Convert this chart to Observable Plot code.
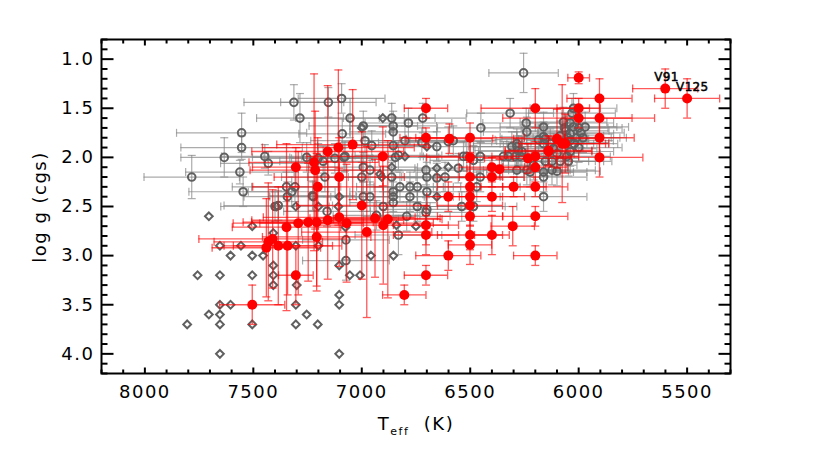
<!DOCTYPE html>
<html><head><meta charset="utf-8">
<script src="https://cdn.jsdelivr.net/npm/d3@7"></script>
<script src="https://cdn.jsdelivr.net/npm/@observablehq/plot@0.6"></script>
<style>body{margin:0;background:#fff}</style>
</head><body><div id="chart"></div>
<script>
// ---- data: [Teff, logg, errTeff, errLogg]
const grayCircles = [
[7313,1.44,230,0.18],[7154,1.44,220,0.15],[7093,1.40,200,0.15],[7285,1.60,200,0.25],
[7554,1.75,300,0.2],[7554,1.90,280,0.12],[7634,2.00,200,0.2],[7447,1.99,200,0.12],
[7431,2.06,220,0.12],[7562,2.15,250,0.12],[7784,2.20,220,0.22],[7547,2.35,250,0.15],
[7254,2.00,250,0.15],[7201,2.01,250,0.15],[7178,2.04,200,0.15],[7124,2.01,200,0.15],
[7082,2.00,250,0.15],[7054,1.60,250,0.2],[7347,2.30,250,0.15],[7323,2.35,200,0.15],
[7308,2.30,200,0.15],[7227,2.39,200,0.15],[7170,2.20,200,0.15],[7400,2.50,250,0.15],
[7385,2.49,250,0.15],[7343,2.40,200,0.15],[7224,2.40,200,0.15],[7073,2.84,200,0.2],
[7073,3.05,200,0.2],[7160,2.55,200,0.15],[7090,1.76,200,0.15],
[6862,1.60,200,0.15],[6785,1.65,200,0.15],[6719,1.60,200,0.15],[6993,1.68,250,0.15],
[6855,1.68,200,0.15],[6855,1.74,200,0.15],[6985,1.83,250,0.15],[6954,1.88,250,0.15],
[6855,1.88,200,0.15],[6801,1.83,200,0.15],[6723,1.85,200,0.15],[6654,1.89,200,0.15],
[6601,1.84,200,0.15],[6578,1.83,200,0.15],[7077,1.99,200,0.15],[6831,1.98,200,0.15],
[6845,2.00,200,0.15],[6993,2.10,250,0.15],[6962,2.13,250,0.15],[6862,2.20,200,0.15],
[6704,2.13,200,0.15],[6700,2.20,200,0.15],[6654,2.21,200,0.15],[6555,2.11,200,0.15],
[6531,1.99,200,0.15],[6516,1.99,200,0.15],[7000,2.20,250,0.15],[6824,2.30,200,0.15],
[6778,2.30,200,0.15],[6744,2.30,200,0.15],[6700,2.35,200,0.15],[6855,2.40,200,0.15],
[6778,2.40,200,0.15],[6855,2.35,200,0.15],[6744,2.50,200,0.15],[6700,2.53,200,0.15],
[6993,2.40,250,0.15],[6962,2.40,250,0.15],[6831,2.79,200,0.2],[6704,2.56,200,0.15],
[6793,2.60,200,0.15],[6539,2.50,200,0.15],[6485,2.50,200,0.15],[6855,2.46,200,0.15],
[6932,2.59,200,0.15],[6901,2.50,200,0.15],[6616,2.20,200,0.15],[6454,2.20,200,0.15],
[6470,2.30,200,0.15],[6454,1.99,200,0.15],[6485,2.03,200,0.15],[6451,1.70,200,0.15],
[6254,1.14,160,0.2],[6316,1.55,200,0.15],[6242,1.65,200,0.15],[6239,1.74,200,0.15],
[6024,1.50,200,0.15],[6031,1.55,200,0.15],[6039,1.65,200,0.15],[6024,1.69,200,0.15],
[6039,1.76,200,0.15],[5970,1.69,200,0.15],[6070,1.64,200,0.15],[6060,1.73,200,0.15],
[6085,1.78,200,0.15],[6162,1.69,200,0.15],[6162,1.79,200,0.15],[6154,1.81,200,0.15],
[6185,1.82,200,0.15],[6162,1.86,200,0.15],[6285,1.86,200,0.15],[6278,1.93,200,0.15],
[6270,1.99,200,0.15],[6131,1.86,200,0.15],[6116,1.91,200,0.15],[6039,1.94,200,0.15],
[6054,1.99,200,0.15],[6100,1.96,200,0.15],[6324,1.99,200,0.15],[6347,1.99,200,0.15],
[6308,1.89,200,0.15],[6285,1.89,200,0.15],[6262,1.94,200,0.15],[6293,1.99,200,0.15],
[6154,2.04,200,0.15],[6123,2.04,200,0.15],[6085,2.04,200,0.15],[6047,2.04,200,0.15],
[6285,2.13,200,0.15],[6239,2.13,200,0.15],[6208,2.08,200,0.15],[6162,2.15,200,0.15],
[6123,2.13,200,0.15],[6224,2.15,200,0.15],[6162,2.20,200,0.15],[6162,2.40,200,0.15],
[6100,2.14,200,0.15],[6010,1.80,200,0.15],[6000,1.90,200,0.15],[5990,1.75,200,0.15],
[6060,1.85,200,0.15],[6050,1.80,200,0.15],[6040,1.83,200,0.15],[6020,1.86,200,0.15],
[6065,1.70,200,0.15],[6000,1.70,200,0.15],[5980,1.80,200,0.15]
];
// [Teff, logg]
const grayDiamonds = [
[7705,2.60],[7654,2.90],[7605,3.00],[7557,2.90],[7505,2.70],[7505,3.00],[7455,3.00],
[7757,3.20],[7654,3.20],[7505,3.20],[7654,3.50],[7605,3.50],[7705,3.60],[7654,3.60],
[7805,3.70],[7654,3.70],[7505,3.70],[7654,4.00],[7304,3.50],[7254,3.60],[7304,3.70],
[7203,3.70],[7104,4.00],[7104,3.40],[7104,3.50],[7104,3.10],[7408,3.10],[7408,3.20],
[7408,3.30],[7300,3.30],[7304,2.90],[7200,2.90],[7393,2.50],[7304,2.50],[7200,2.50],
[7408,2.77],[7108,2.50],[7104,2.40],[7055,3.20],[7008,3.20],[6958,3.00],[6854,3.00],
[6654,2.40],[6750,2.70],[6840,2.69],[6908,2.20],[6916,2.17],[6801,1.99],[6700,1.89],
[6601,2.10],[6654,2.11],[6903,1.60],[7000,1.70],[6862,2.10],[7075,2.71]
];
// [Teff, logg, errTeff, errLogg]
const redPoints = [
[7505,3.50,150,0.2],[7431,2.86,250,0.6],[7411,2.83,340,0.5],[7440,2.92,250,0.5],
[7385,2.90,250,0.6],[7347,2.71,250,0.85],[7342,2.90,250,0.5],[7304,3.20,80,0.3],
[7293,2.67,300,0.73],[7247,2.66,300,0.6],[7208,2.66,300,0.7],[7208,2.81,250,0.5],
[7157,2.64,350,0.6],[7104,2.61,350,0.5],[7070,2.67,400,0.6],[6977,2.76,300,0.87],
[6939,2.62,300,0.6],[6901,2.69,300,0.6],[6880,2.63,250,0.8],[7304,2.10,200,0.2],
[7220,2.05,300,0.9],[7215,2.13,300,0.6],[7157,1.94,350,0.67],[7108,1.90,350,0.79],
[7104,2.20,300,0.4],[7203,2.30,300,0.5],[7042,1.87,350,0.56],[6903,1.99,350,0.3],
[7000,2.49,300,0.75],[6704,1.50,100,0.1],[6704,1.80,120,0.1],[6596,1.81,200,0.15],
[6501,1.80,250,0.15],[6501,2.00,200,0.2],[6501,2.20,150,0.15],[6501,2.30,150,0.1],
[6501,2.40,150,0.1],[6501,2.49,150,0.1],[6400,2.10,150,0.1],[6365,2.12,150,0.1],
[6400,2.20,150,0.1],[6300,2.30,150,0.1],[6200,1.50,250,0.2],[6234,2.01,200,0.15],
[6200,1.99,200,0.15],[6200,2.10,150,0.15],[6200,2.30,150,0.1],[6139,1.94,200,0.15],
[6601,2.40,100,0.15],[6400,2.40,150,0.15],[6501,2.60,150,0.1],[6200,2.60,150,0.1],
[6304,2.70,100,0.2],[6704,2.69,150,0.2],[6704,2.79,150,0.2],[6501,2.79,150,0.15],
[6400,2.79,80,0.2],[6501,2.89,100,0.2],[6601,3.00,150,0.15],[6200,3.00,100,0.1],
[6704,3.20,100,0.1],[6804,3.40,100,0.1],[6000,1.19,50,0.06],[5904,1.40,150,0.2],
[5601,1.30,150,0.2],[5500,1.40,150,0.2],[6000,1.50,100,0.1],[6000,1.60,350,0.1],
[5904,1.60,150,0.2],[5904,1.80,160,0.2],[5904,2.00,200,0.2],[6100,1.81,200,0.3],
[6076,1.86,200,0.6],[6062,1.86,200,0.3],[6139,1.93,200,0.15]
];
const starNames = ["V91","V125"];
const starT = [5601,5500];
const starG = [1.30,1.40];
const xTicks = [8000,7500,7000,6500,6000,5500];
const yTicks = [1.0,1.5,2.0,2.5,3.0,3.5,4.0];

// ---- helpers
const seg = (x1,y1,x2,y2) => ({draw(c){c.moveTo(x1,y1);c.lineTo(x2,y2);}});
const xMinor = d3.range(5300, 8201, 100).filter(v => v % 500 !== 0);
const yMinor = d3.range(8, 43).map(i => i/10).filter(v => Math.abs(v*2 - Math.round(v*2)) > 1e-6);
const labels = starNames.map((n,i) => ({n, T: starT[i], g: starG[i]}));

function errorBars(data, color, opacity, width) {
  const common = {stroke: color, strokeOpacity: opacity, strokeWidth: width, clip: true};
  const capH = seg(-4,0,4,0), capV = seg(0,-4,0,4);
  return [
    Plot.ruleY(data, {y: d=>d[1], x1: d=>d[0]-d[2], x2: d=>d[0]+d[2], ...common}),
    Plot.ruleX(data, {x: d=>d[0], y1: d=>d[1]-d[3], y2: d=>d[1]+d[3], ...common}),
    Plot.dot(data, {x: d=>d[0]-d[2], y: d=>d[1], symbol: capV, fill: "none", ...common}),
    Plot.dot(data, {x: d=>d[0]+d[2], y: d=>d[1], symbol: capV, fill: "none", ...common}),
    Plot.dot(data, {x: d=>d[0], y: d=>d[1]-d[3], symbol: capH, fill: "none", ...common}),
    Plot.dot(data, {x: d=>d[0], y: d=>d[1]+d[3], symbol: capH, fill: "none", ...common})
  ];
}
const tk = {stroke: "black", strokeWidth: 2, fill: "none"};
const font = "DejaVu Sans";

const chart = Plot.plot({
  width: 830, height: 453,
  marginLeft: 101, marginRight: 100, marginTop: 39, marginBottom: 80,
  style: {fontFamily: font, letterSpacing: "1.5px", background: "white"},
  x: {domain: [8200, 5300], axis: null},
  y: {domain: [4.2, 0.8], axis: null},
  marks: [
    ...errorBars(grayCircles, "#888888", 0.7, 1.2),
    Plot.dot(grayCircles, {x: d=>d[0], y: d=>d[1], r: 3.8, stroke: "#606060", strokeWidth: 2, fill: "none"}),
    Plot.dot(grayDiamonds, {x: d=>d[0], y: d=>d[1], r: 3.5, symbol: "diamond2", stroke: "#606060", strokeWidth: 2, fill: "none"}),
    ...errorBars(redPoints, "#ff0000", 0.65, 1.3),
    Plot.dot(redPoints, {x: d=>d[0], y: d=>d[1], r: 5, fill: "#ff0000", stroke: "none"}),
    Plot.text(labels, {x: "T", y: "g", text: "n", textAnchor: "start", dx: -11, dy: -11, fontSize: 12, fontFamily: font, fill: "black", stroke: "black", strokeWidth: 0.5}),
    // ticks (inward, all four sides)
    Plot.dot(xTicks, {x: d=>d, frameAnchor: "bottom", symbol: seg(0,0,0,-6), ...tk}),
    Plot.dot(xMinor, {x: d=>d, frameAnchor: "bottom", symbol: seg(0,0,0,-4), ...tk}),
    Plot.dot(xTicks, {x: d=>d, frameAnchor: "top", symbol: seg(0,0,0,6), ...tk}),
    Plot.dot(xMinor, {x: d=>d, frameAnchor: "top", symbol: seg(0,0,0,4), ...tk}),
    Plot.dot(yTicks, {y: d=>d, frameAnchor: "left", symbol: seg(0,0,12,0), ...tk}),
    Plot.dot(yMinor, {y: d=>d, frameAnchor: "left", symbol: seg(0,0,6,0), ...tk}),
    Plot.dot(yTicks, {y: d=>d, frameAnchor: "right", symbol: seg(0,0,-12,0), ...tk}),
    Plot.dot(yMinor, {y: d=>d, frameAnchor: "right", symbol: seg(0,0,-6,0), ...tk}),
    Plot.frame({stroke: "black", strokeWidth: 2}),
    // tick labels
    Plot.text(xTicks, {x: d=>d, frameAnchor: "bottom", dy: 24, text: d=>String(d), fontSize: 18, fontFamily: font, fill: "black"}),
    Plot.text(yTicks, {y: d=>d, frameAnchor: "left", dx: -7, textAnchor: "end", text: d=>d.toFixed(1), fontSize: 18, fontFamily: font, fill: "black"})
  ]
});

const svg = d3.select(chart);
svg.selectAll("text").filter(function(){ return /^V/.test(this.textContent); }).style("letter-spacing", "0.3px");
const xt = svg.append("text").attr("x", 416).attr("y", 430).attr("text-anchor", "middle")
  .attr("font-family", font).attr("font-size", 18).attr("fill", "black");
xt.append("tspan").text("T");
xt.append("tspan").attr("font-size", 11).attr("dy", 5).text("eff");
xt.append("tspan").attr("dy", -5).text("\u00a0\u00a0(K)");
svg.append("text").attr("transform", "translate(46,207) rotate(-90)").attr("text-anchor", "middle")
  .attr("font-family", font).attr("font-size", 18)
  .style("letter-spacing", "1.5px").attr("fill", "black").text("log g (cgs)");

document.getElementById("chart").appendChild(chart);
</script></body></html>
